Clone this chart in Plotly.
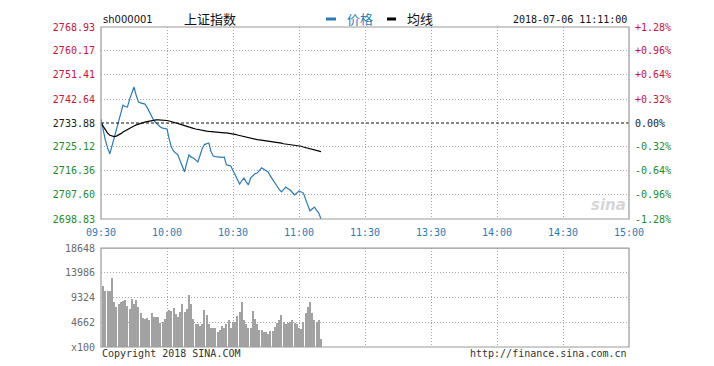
import plotly.graph_objects as go

prev_close = 2733.88
time_ticks = [0, 30, 60, 90, 120, 150, 180, 210, 240]
time_labels = ["09:30", "10:00", "10:30", "11:00", "11:30", "13:30", "14:00", "14:30", "15:00"]
price_ticks = [2768.93, 2760.17, 2751.41, 2742.64, 2733.88, 2725.12, 2716.36, 2707.60, 2698.83]
price_labels = ["2768.93", "2760.17", "2751.41", "2742.64", "2733.88", "2725.12", "2716.36", "2707.60", "2698.83"]
pct_labels = ["+1.28%", "+0.96%", "+0.64%", "+0.32%", "0.00%", "-0.32%", "-0.64%", "-0.96%", "-1.28%"]
vol_ticks = [0, 4662, 9324, 13986, 18648]
vol_labels = ["x100", "4662", "9324", "13986", "18648"]

price = [
    2735.3, 2731.0, 2727.5, 2724.8, 2722.6, 2725.5, 2728.6, 2731.5, 2733.9, 2737.0,
    2740.4, 2739.9, 2739.7, 2742.5, 2744.8, 2747.0, 2744.0, 2741.6, 2741.2, 2740.9,
    2740.8, 2739.5, 2737.9, 2736.0, 2734.8, 2733.9, 2733.0, 2732.4, 2732.0, 2731.8,
    2731.7, 2728.0, 2725.1, 2723.6, 2722.8, 2722.2, 2720.0, 2717.8, 2716.0, 2719.5,
    2722.2, 2721.4, 2721.1, 2720.4, 2719.7, 2722.0, 2724.5, 2726.0, 2726.4, 2726.6,
    2723.5, 2721.8, 2721.6, 2721.5, 2721.6, 2721.3, 2721.5, 2718.6, 2718.4, 2718.2,
    2716.5, 2714.9, 2713.2, 2711.6, 2712.8, 2713.8, 2712.4, 2711.3, 2713.8, 2714.6,
    2715.4, 2715.6, 2716.6, 2717.5, 2717.0, 2716.5, 2716.0, 2714.5, 2713.2, 2712.0,
    2710.8, 2709.6, 2708.7, 2709.8, 2710.5, 2709.9, 2709.4, 2708.5, 2707.6, 2708.3,
    2709.1, 2708.7, 2708.3, 2706.0, 2703.8, 2701.8, 2702.5, 2703.2, 2702.0, 2701.0,
    2698.83,
]

avg_line = [
    2733.9, 2732.6, 2731.3, 2730.2, 2729.4, 2729.0, 2728.9, 2729.1, 2729.5, 2730.0,
    2730.6, 2731.1, 2731.6, 2732.0, 2732.4, 2732.8, 2733.2, 2733.5, 2733.8, 2734.0,
    2734.2, 2734.4, 2734.6, 2734.8, 2734.9, 2735.0, 2735.0, 2735.0, 2734.9, 2734.9,
    2734.8, 2734.6, 2734.4, 2734.2, 2733.9, 2733.7, 2733.4, 2733.2, 2732.9, 2732.6,
    2732.4, 2732.2, 2731.9, 2731.7, 2731.5, 2731.3, 2731.2, 2731.0, 2730.9, 2730.8,
    2730.7, 2730.7, 2730.6, 2730.5, 2730.5, 2730.4, 2730.3, 2730.3, 2730.2, 2730.0,
    2729.8, 2729.7, 2729.5, 2729.3, 2729.0, 2728.8, 2728.6, 2728.4, 2728.3, 2728.1,
    2727.9, 2727.8, 2727.7, 2727.6, 2727.5, 2727.4, 2727.3, 2727.1, 2727.0, 2726.8,
    2726.7, 2726.6, 2726.5, 2726.3, 2726.2, 2726.1, 2725.9, 2725.8, 2725.7, 2725.6,
    2725.5, 2725.4, 2725.1, 2724.9, 2724.6, 2724.4, 2724.2, 2724.0, 2723.8, 2723.6,
    2723.4,
]

volume = [
    11500, 10570, 10500, 10570, 12940, 8520, 7460, 8090, 8400, 8710,
    8830, 7780, 7160, 9030, 8090, 8830, 7590, 6340, 5480, 5170,
    5480, 4980, 6340, 5730, 5600, 5600, 4480, 4660, 5170, 6530,
    6970, 6780, 7350, 6240, 5730, 6530, 8090, 6530, 7160, 9830,
    8090, 5170, 4360, 4360, 4000, 4360, 7000, 6100, 4360, 3620,
    3620, 3600, 2800, 3230, 3850, 3600, 4350, 5100, 3600, 4660,
    4660, 5900, 6530, 8390, 5100, 4350, 3600, 3600, 6710, 5280,
    4350, 3230, 3110, 2800, 2800, 2490, 2980, 2980, 3730, 4480,
    5100, 6090, 4660, 4350, 4480, 4660, 5100, 4480, 4350, 3600,
    3420, 4660, 6340, 7590, 8390, 6340, 4980, 4660, 5100, 1550,
]

minutes = list(range(len(price)))
vol_minutes = list(range(1, len(volume) + 1))

RED = "#c8143c"
GREEN = "#1f8a2a"
BLUE = "#2b7bb9"
LINE_BLUE = "#2a7ab6"
GRID = "#a8a8a8"
GRIDDASH = "1px,2px"
FRAME = "#999999"
MONO = "DejaVu Sans Mono"

# page body has an 8px margin; plot area targets x 101..629, y 27..347
W, H = 706, 358
ML, MR, MT, MB = 93, 85, 19, 19

fig = go.Figure()
fig.add_trace(go.Scatter(x=minutes, y=price, mode="lines", line=dict(color=LINE_BLUE, width=1.2),
                         xaxis="x", yaxis="y", showlegend=False, hoverinfo="skip"))
fig.add_trace(go.Scatter(x=minutes, y=avg_line, mode="lines", line=dict(color="#000000", width=1.2),
                         xaxis="x", yaxis="y", showlegend=False, hoverinfo="skip"))
fig.add_trace(go.Bar(x=vol_minutes, y=volume, width=0.4, marker=dict(color="#a2a2a2", line=dict(width=0)),
                     xaxis="x2", yaxis="y2", showlegend=False, hoverinfo="skip"))

rng = [price_ticks[-1], price_ticks[0]]
red_idx = [0, 1, 2, 3]
mid_idx = [4]
green_idx = [5, 6, 7, 8]


def yax(idx, labels, color, side, grid, overlay=True):
    d = dict(
        domain=[0.4, 1.0], range=rng, tickmode="array",
        tickvals=[price_ticks[i] for i in idx],
        ticktext=[labels[i] for i in idx],
        tickfont=dict(family=MONO, size=10, color=color),
        showgrid=grid, gridcolor=GRID, griddash=GRIDDASH, gridwidth=1,
        zeroline=False, showline=False, side=side, anchor="x",
        ticks="outside", ticklen=3, tickcolor="rgba(0,0,0,0)", automargin=False,
        fixedrange=True,
    )
    if overlay:
        d["overlaying"] = "y"
    return d


layout = dict(
    width=W, height=H,
    margin=dict(l=ML, r=MR, t=MT, b=MB, pad=0),
    paper_bgcolor="white", plot_bgcolor="white",
    xaxis=dict(domain=[0, 1], range=[0, 240], tickmode="array", tickvals=time_ticks, ticktext=time_labels,
               tickfont=dict(family=MONO, size=10, color=BLUE), showgrid=True, gridcolor=GRID,
               griddash=GRIDDASH, zeroline=False, showline=False, anchor="y",
               ticks="outside", ticklen=4, tickcolor="rgba(0,0,0,0)", automargin=False),
    xaxis2=dict(domain=[0, 1], range=[0, 240], tickmode="array", tickvals=time_ticks,
                showticklabels=False, showgrid=True, gridcolor=GRID, griddash=GRIDDASH,
                zeroline=False, showline=False, anchor="y2", automargin=False),
    yaxis=yax(red_idx, price_labels, RED, "left", True, overlay=False),
    yaxis3=yax(mid_idx, price_labels, "#222222", "left", False),
    yaxis4=yax(green_idx, price_labels, GREEN, "left", True),
    yaxis5=yax(red_idx, pct_labels, RED, "right", False),
    yaxis6=yax(mid_idx, pct_labels, "#222222", "right", False),
    yaxis7=yax(green_idx, pct_labels, GREEN, "right", False),
    yaxis2=dict(domain=[0, 0.309], range=[0, vol_ticks[-1]], tickmode="array", tickvals=vol_ticks,
                ticktext=vol_labels, tickfont=dict(family=MONO, size=10, color="#6a6a6a"),
                showgrid=True, gridcolor=GRID, griddash=GRIDDASH, zeroline=False, showline=False,
                anchor="x2", ticks="outside", ticklen=3, tickcolor="rgba(0,0,0,0)", automargin=False),
    bargap=0,
)
fig.update_layout(**layout)

# invisible traces to activate the overlay axes
for ax in ["y3", "y4", "y5", "y6", "y7"]:
    fig.add_trace(go.Scatter(x=[None], y=[None], xaxis="x", yaxis=ax, showlegend=False, hoverinfo="skip"))


def px_x(x):
    return (x - 101) / 528


def px_y(y):
    return (347 - y) / 320


shapes = [
    dict(type="line", xref="x domain", yref="y", x0=0, x1=1, y0=prev_close, y1=prev_close,
         line=dict(color="#111111", width=1, dash="3px,2px")),
    dict(type="rect", xref="x domain", yref="y domain", x0=0, x1=1, y0=0, y1=1,
         line=dict(color=FRAME, width=1.2)),
    dict(type="rect", xref="x2 domain", yref="y2 domain", x0=0, x1=1, y0=0, y1=1,
         line=dict(color=FRAME, width=1.2)),
    # legend dashes
    dict(type="line", xref="paper", yref="paper", x0=px_x(326), x1=px_x(336),
         y0=px_y(19), y1=px_y(19), line=dict(color=LINE_BLUE, width=3)),
    dict(type="line", xref="paper", yref="paper", x0=px_x(387), x1=px_x(396),
         y0=px_y(19), y1=px_y(19), line=dict(color="#000000", width=3)),
]
fig.update_layout(shapes=shapes)

annotations = [
    dict(text="sh000001", x=px_x(101), y=px_y(19), xanchor="left", yanchor="middle",
         font=dict(family="DejaVu Sans", size=10, color="#111111")),
    dict(text="上证指数", x=px_x(182), y=px_y(18), xanchor="left", yanchor="middle",
         font=dict(family="Noto Sans CJK SC", size=13, color="#111111")),
    dict(text="价格", x=px_x(345), y=px_y(18), xanchor="left", yanchor="middle",
         font=dict(family="Noto Sans CJK SC", size=13, color=BLUE)),
    dict(text="均线", x=px_x(405), y=px_y(18), xanchor="left", yanchor="middle",
         font=dict(family="Noto Sans CJK SC", size=13, color="#111111")),
    dict(text="2018-07-06 11:11:00", x=px_x(629), y=px_y(19), xanchor="right", yanchor="middle",
         font=dict(family=MONO, size=10, color="#111111")),
    dict(text="Copyright 2018 SINA.COM", x=px_x(100), y=px_y(353), xanchor="left", yanchor="middle",
         font=dict(family=MONO, size=10, color="#333333")),
    dict(text="http://finance.sina.com.cn", x=px_x(629), y=px_y(353), xanchor="right", yanchor="middle",
         font=dict(family=MONO, size=10, color="#333333")),
    dict(text="<i><b>sina</b></i>", x=px_x(628), y=px_y(205), xanchor="right", yanchor="middle",
         font=dict(family="DejaVu Sans", size=15, color="#d6d6d6")),
]
for a in annotations:
    a.update(xref="paper", yref="paper", showarrow=False)
fig.update_layout(annotations=annotations)

fig.write_html("out.html")
